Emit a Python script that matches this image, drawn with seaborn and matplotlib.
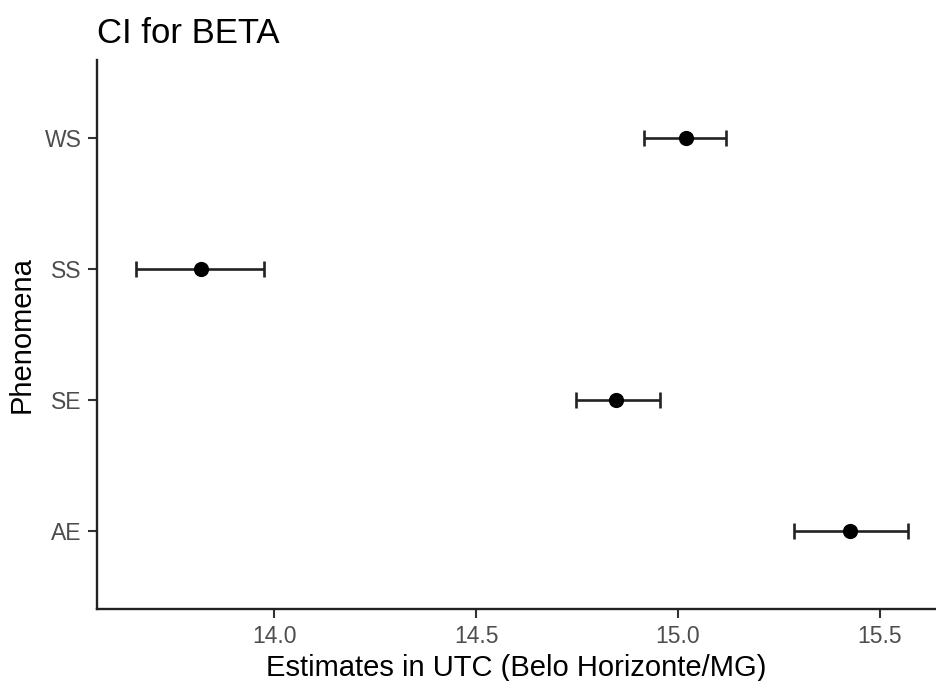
import matplotlib
matplotlib.use("Agg")
import matplotlib.pyplot as plt
import seaborn as sns
import pandas as pd

# bottom-to-top order so AE sits at the bottom of the categorical axis
phenomena = ["AE", "SE", "SS", "WS"]
estimate = [15.427, 14.847, 13.818, 15.020]
lower = [15.288, 14.747, 13.658, 14.916]
upper = [15.570, 14.955, 13.975, 15.120]

df = pd.DataFrame({"Phenomena": phenomena, "est": estimate, "lo": lower, "hi": upper})

sns.set_style("white")
plt.rcParams["font.family"] = ["Liberation Sans", "DejaVu Sans"]

fig = plt.figure(figsize=(9.36, 6.81), dpi=100)
ax = fig.add_axes([97.3 / 936, 72 / 681, 1 - 97.3 / 936, 549 / 681])

ax.errorbar(df["est"], df["Phenomena"],
            xerr=[df["est"] - df["lo"], df["hi"] - df["est"]],
            fmt="none", ecolor="#222222", elinewidth=1.9, capsize=5.5, capthick=1.9, zorder=2)
sns.scatterplot(data=df, x="est", y="Phenomena", color="black", s=120,
                edgecolor="black", linewidth=0, ax=ax, zorder=3)

ax.set_xlim(13.562, 15.639)
ax.set_ylim(-0.6, 3.6)
ax.set_xticks([14.0, 14.5, 15.0, 15.5])
ax.set_xticklabels(["14.0", "14.5", "15.0", "15.5"])

for side in ["top", "right"]:
    ax.spines[side].set_visible(False)
for side in ["left", "bottom"]:
    ax.spines[side].set_color("#222222")
    ax.spines[side].set_linewidth(1.7)

ax.tick_params(axis="both", which="major", length=6.5, width=1.5, color="#333333",
               labelsize=16.5, labelcolor="#4D4D4D", pad=5, bottom=True, left=True)

ax.set_xlabel("Estimates in UTC (Belo Horizonte/MG)", fontsize=21, color="black", labelpad=4)
ax.set_ylabel("Phenomena", fontsize=21, color="black", labelpad=6)
ax.set_title("CI for BETA", loc="left", fontsize=25, color="black", pad=12.5)

fig.savefig("out.png", dpi=100)
